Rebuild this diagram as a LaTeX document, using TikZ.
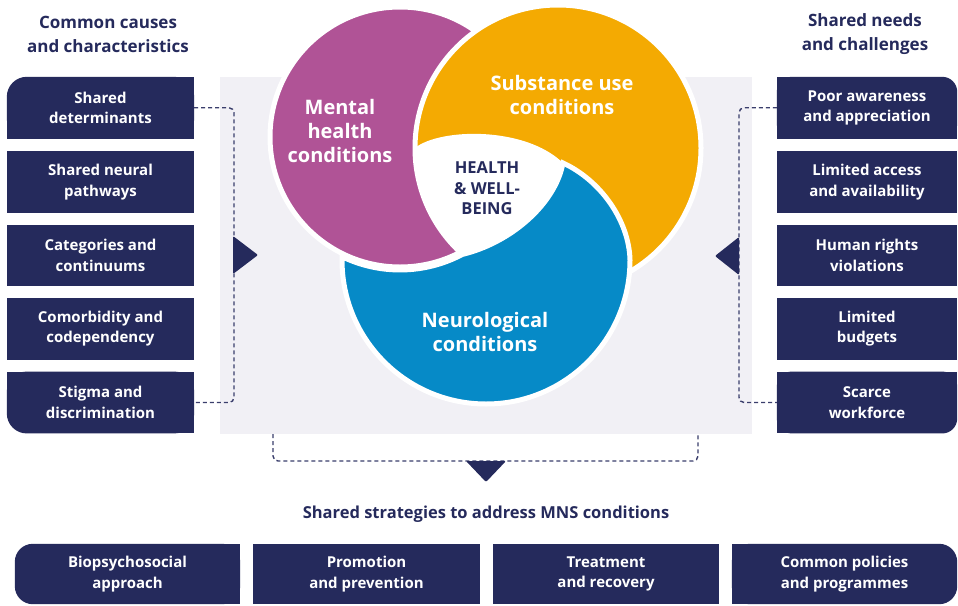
\documentclass[tikz,border=0pt]{standalone}
\usepackage{fontspec}
\setmainfont{Open Sans}
\usetikzlibrary{backgrounds}
\definecolor{navy}{HTML}{252A5C}
\definecolor{cmag}{HTML}{B05396}
\definecolor{corange}{HTML}{F4AA02}
\definecolor{cblue}{HTML}{068AC7}
\definecolor{bggrey}{HTML}{F1F0F5}
\definecolor{dashcol}{HTML}{3A3E6C}
\begin{document}
\begin{tikzpicture}[x=1pt,y=-1pt,
  boxtext/.style={text=white, font=\bfseries\fontsize{15}{20.5}\selectfont, align=center, inner sep=0pt},
  lbox/.style={boxtext, minimum width=187pt, minimum height=61.5pt},
  rbox/.style={boxtext, minimum width=180pt, minimum height=61.5pt},
  bbox/.style={boxtext, minimum height=60pt},
  filled/.style={fill=navy},
  header/.style={text=navy, font=\bfseries\fontsize{17}{24}\selectfont, align=center, inner sep=0pt},
  circlabel/.style={text=white, font=\bfseries\fontsize{20}{24}\selectfont, align=center, inner sep=0pt},
  ring/.style={draw=white, line width=5pt},
  conn/.style={draw=dashcol, line width=1.4pt, dash pattern=on 4pt off 3pt, rounded corners=5pt},
  tri/.style={fill=navy, rounded corners=1.2pt}
]
\useasboundingbox (0,0) rectangle (958,605);
\begin{scope}[on background layer]
  \fill[white] (0,0) rectangle (958,605);
\end{scope}

% grey background panel
\node[fill=bggrey, minimum width=532pt, minimum height=357pt, inner sep=0pt] (bg) at (486,255.5) {};

% headers
\node[header] (hl) at (108,34) {Common causes\\and characteristics};
\node[header] (hr) at (865,34) {Shared needs\\and challenges};
\node[header, font=\bfseries\fontsize{16.5}{20}\selectfont] (ht) at (486,514) {Shared strategies to address MNS conditions};

% left boxes
\node[lbox] (L1) at (100.5,107.75) {Shared\\determinants};
\node[lbox, filled] (L2) at (100.5,182) {Shared neural\\pathways};
\node[lbox, filled] (L3) at (100.5,255.5) {Categories and\\continuums};
\node[lbox, filled] (L4) at (100.5,328.75) {Comorbidity and\\codependency};
\node[lbox] (L5) at (100.5,402.5) {Stigma and\\discrimination};

% right boxes
\node[rbox] (R1) at (867,107.75) {Poor awareness\\and appreciation};
\node[rbox, filled] (R2) at (867,182) {Limited access\\and availability};
\node[rbox, filled] (R3) at (867,255.5) {Human rights\\violations};
\node[rbox, filled] (R4) at (867,328.75) {Limited\\budgets};
\node[rbox] (R5) at (867,402.5) {Scarce\\workforce};

% bottom boxes
\node[bbox, minimum width=225pt] (B1) at (127.5,574) {Biopsychosocial\\approach};
\node[bbox, filled, minimum width=227pt] (B2) at (366.5,574) {Promotion\\and prevention};
\node[bbox, filled, minimum width=226pt] (B3) at (606,574) {Treatment\\and recovery};
\node[bbox, minimum width=225pt] (B4) at (844.5,574) {Common policies\\and programmes};

\begin{scope}[on background layer]
  \fill[navy, rounded corners=20pt] (L1.south west) rectangle (L1.north east);
  \fill[navy] (L1.north) rectangle (L1.south east);
  \fill[navy] (L1.west) rectangle (L1.south);
  \fill[navy, rounded corners=20pt] (L5.south west) rectangle (L5.north east);
  \fill[navy] (L5.north) rectangle (L5.south east);
  \fill[navy] (L5.north west) rectangle (L5.east);
  \fill[navy, rounded corners=15pt] (R1.south west) rectangle (R1.north east);
  \fill[navy] (R1.north west) rectangle (R1.south);
  \fill[navy] (R1.west) rectangle (R1.south east);
  \fill[navy, rounded corners=15pt] (R5.south west) rectangle (R5.north east);
  \fill[navy] (R5.north west) rectangle (R5.south);
  \fill[navy] (R5.north west) rectangle (R5.east);
  \fill[navy, rounded corners=18pt] (B1.south west) rectangle (B1.north east);
  \fill[navy] (B1.north) rectangle (B1.south east);
  \fill[navy, rounded corners=18pt] (B4.south west) rectangle (B4.north east);
  \fill[navy] (B4.north west) rectangle (B4.south);
\end{scope}

% dashed connectors
\coordinate (lx) at (234,0);
\coordinate (rx) at (739,0);
\coordinate (bcl) at (273,434);
\coordinate (bcr) at (698,434);
\draw[conn] (L1.east) -- (L1.east -| lx) -- (L5.east -| lx) -- (L5.east);
\draw[conn] (R1.west) -- (R1.west -| rx) -- (R5.west -| rx) -- (R5.west);
\draw[conn] (bcl) -- ++(0,27) -| (bcr);

% arrow triangles
\fill[tri] (233,236) -- (258,255) -- (233,274) -- cycle;
\fill[tri] (739,237) -- (715,256) -- (739,275) -- cycle;
\fill[tri] (466,461) -- (506,461) -- (486,482) -- cycle;

% interlocking circles
\coordinate (P2) at (563,163);
\coordinate (P3) at (462.4,254.4);
\path[ring, fill=cmag] (400,137) circle[radius=130];
\path[ring, fill=corange] (558,148) circle[radius=143];
\path[ring, fill=cblue] (P2) .. controls (600,180) and (629,220) .. (630,260)
   arc[start angle=0, end angle=180, radius=144] -- (342.1,256.7)
   arc[start angle=115.8, end angle=62, radius=133]
   .. controls (510,243) and (555,205) .. (P2) -- cycle;
\fill[white] (P3) arc[start angle=131.9, end angle=180, radius=143]
   .. controls (440,128) and (525,126) .. (P2)
   .. controls (555,205) and (510,243) .. (P3) -- cycle;

% circle labels
\node[circlabel] (mh) at (340,131) {Mental\\health\\conditions};
\node[circlabel] (su) at (562,94.5) {Substance use\\conditions};
\node[circlabel] (nc) at (485,332) {Neurological\\conditions};
\node[text=navy, font=\bfseries\fontsize{16.5}{20.5}\selectfont, align=center, inner sep=0pt] (hw) at (487,188.5) {HEALTH\\\& WELL-\\BEING};
\end{tikzpicture}
\end{document}
